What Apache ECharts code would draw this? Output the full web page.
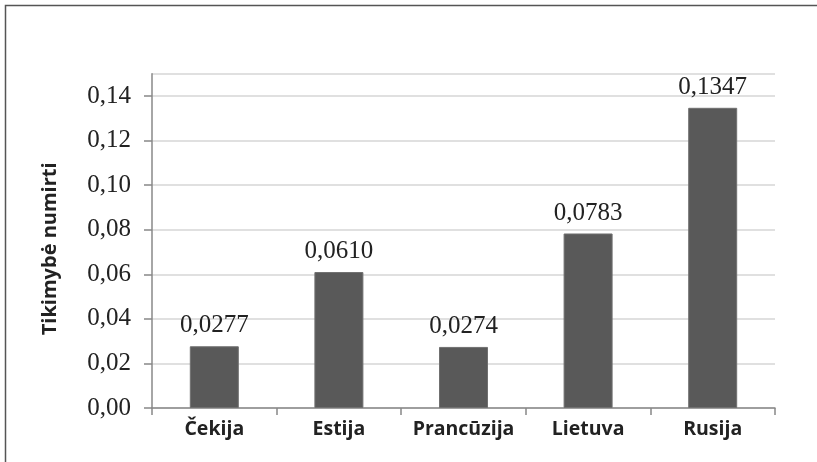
<!DOCTYPE html>
<html>
<head>
<meta charset="utf-8">
<script src="https://cdn.jsdelivr.net/npm/echarts@6/dist/echarts.min.js"></script>
<style>
html,body{margin:0;padding:0;background:#fff;}
#chart{width:817px;height:462px;}
</style>
</head>
<body>
<div id="chart"></div>
<script>
const categories = ['Čekija', 'Estija', 'Prancūzija', 'Lietuva', 'Rusija'];
const values = [0.0277, 0.0610, 0.0274, 0.0783, 0.1347];
const yTitle = 'Tikimybė numirti';

const SERIF = "'Liberation Serif', 'Times New Roman', Times, serif";
const SANS = "'Open Sans', 'Noto Sans', sans-serif";

const chart = echarts.init(document.getElementById('chart'), null, {renderer: 'canvas'});
chart.setOption({
  animation: false,
  backgroundColor: '#fff',
  graphic: [{
    type: 'polyline',
    shape: {points: [[5.5, 462], [5.5, 5.5], [817, 5.5]]},
    style: {stroke: '#555', lineWidth: 1.5, fill: null},
    silent: true
  }],
  grid: {left: 152, right: 42, top: 73.7, bottom: 54, containLabel: false},
  xAxis: {
    type: 'category',
    data: categories,
    axisLine: {lineStyle: {color: '#888', width: 1.5}},
    axisTick: {show: true, interval: 0, length: 7, lineStyle: {color: '#888', width: 1.5}},
    axisLabel: {
      interval: 0,
      hideOverlap: false,
      margin: 11,
      fontFamily: SANS,
      fontWeight: 'bold',
      fontSize: 19.5,
      color: '#222'
    }
  },
  yAxis: {
    type: 'value',
    min: 0,
    max: 0.15,
    interval: 0.02,
    name: yTitle,
    nameLocation: 'middle',
    nameGap: 92,
    nameTextStyle: {fontFamily: SANS, fontWeight: 'bold', fontSize: 20, color: '#222', padding: [0, 16, 0, 0]},
    axisLine: {show: true, lineStyle: {color: '#888', width: 1.5}},
    axisTick: {show: true, length: 8, lineStyle: {color: '#888', width: 1.5}},
    axisLabel: {
      margin: 21,
      showMaxLabel: false,
      fontFamily: SERIF,
      fontSize: 25,
      color: '#222',
      formatter: v => (Math.round(v * 100) / 100).toFixed(2).replace('.', ',')
    },
    splitLine: {show: true, lineStyle: {color: '#d6d6d6', width: 1.5}}
  },
  series: [{
    type: 'bar',
    data: values,
    barWidth: 49,
    itemStyle: {color: '#595959', borderColor: '#707070', borderWidth: 1},
    label: {
      show: true,
      position: 'top',
      distance: 8,
      fontFamily: SERIF,
      fontSize: 25,
      color: '#222',
      formatter: p => p.value.toFixed(4).replace('.', ',')
    }
  }]
});
</script>
</body>
</html>
